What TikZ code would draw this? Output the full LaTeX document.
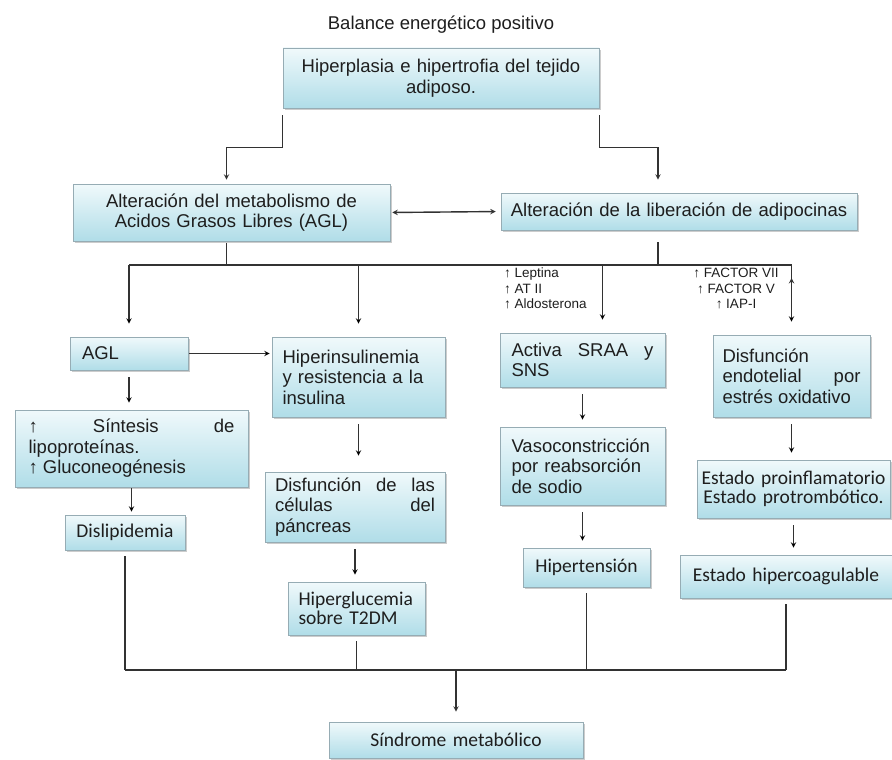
\documentclass[tikz,border=0pt]{standalone}
\usepackage{fontspec}
\setmainfont{Liberation Sans}
\newfontfamily\carlito{Carlito}
\usepackage{tikz}
\usetikzlibrary{arrows}
\usetikzlibrary{shadows}
\definecolor{cajaarriba}{RGB}{240,249,251}
\definecolor{cajaabajo}{RGB}{176,221,232}
\definecolor{borde}{RGB}{150,172,180}
\definecolor{trazo}{RGB}{50,50,50}
\definecolor{texto}{RGB}{30,30,30}
\hyphenpenalty=10000
\exhyphenpenalty=10000

\begin{document}
\begin{tikzpicture}[x=1pt,y=-1pt,
    caja/.style={draw=borde, line width=0.6pt, top color=cajaarriba, bottom color=cajaabajo,
      drop shadow={shadow xshift=1.5pt, shadow yshift=-2pt, opacity=0.4},
      text=texto, inner sep=0pt, font=\fontsize{18.5}{20.5}\selectfont},
    cajac/.style={caja, font=\carlito\fontsize{19.5}{18.5}\selectfont},
    nota/.style={text=texto, inner sep=0pt, font=\fontsize{13.5}{15.5}\selectfont},
    flecha/.style={-stealth, draw=trazo, line width=1.4pt, shorten <=7pt, shorten >=7pt},
    bajada/.style={-stealth, draw=trazo, line width=1.4pt, shorten >=13pt},
    linea/.style={draw=trazo, line width=1.4pt}]
  \useasboundingbox (0,0) rectangle (892,760);

  % cabecera
  \node[text=texto, font=\fontsize{18.5}{22}\selectfont] (balance) at (441,25) {Balance energético positivo};
  \node[caja, minimum width=316pt, minimum height=60pt, text width=304pt, align=center] (hiper) at (441,78)
    {Hiperplasia e hipertrofia del tejido\\ adiposo.};
  \node[caja, minimum width=317pt, minimum height=57pt, text width=304pt, align=center] (metab) at (231.5,212.5)
    {Alteración del metabolismo de\\ Acidos Grasos Libres (AGL)};
  \node[caja, minimum width=356pt, minimum height=37pt, text width=350pt, align=center] (adipo) at (679,211.5)
    {Alteración de la liberación de adipocinas};

  % columna AGL
  \node[caja, minimum width=118pt, minimum height=33pt, text width=94pt, align=left] (agl) at (129,353.5) {AGL};
  \node[caja, minimum width=233pt, minimum height=77pt, text width=206pt, align=justify] (sintesis) at (131.5,448.5)
    {↑ Síntesis de\linebreak lipoproteínas.\\ ↑ Gluconeogénesis};
  \node[cajac, minimum width=120pt, minimum height=35pt, text width=112pt, align=center] (dislip) at (125,532.5) {Dislipidemia};

  % columna insulina
  \node[caja, minimum width=173pt, minimum height=80pt, text width=152pt, align=left] (hiperins) at (358.5,377)
    {Hiperinsulinemia\\ y resistencia a la\\ insulina};
  \node[caja, minimum width=180pt, minimum height=70pt, text width=160pt, align=justify] (disfcel) at (355,507)
    {Disfunción de las\linebreak células del\linebreak páncreas};
  \node[cajac, minimum width=137pt, minimum height=53pt, text width=116pt, align=left] (hipergl) at (356.5,608.5)
    {Hiperglucemia\\ sobre T2DM};

  % columna SRAA
  \node[nota, anchor=north west, align=left] (hormonas) at (504,268) {↑ Leptina\\ ↑ AT II\\ ↑ Aldosterona};
  \node[caja, minimum width=165pt, minimum height=54pt, text width=142pt, align=justify] (activa) at (582.5,360)
    {Activa SRAA y\linebreak SNS};
  \node[caja, minimum width=165pt, minimum height=78pt, text width=142pt, align=left] (vaso) at (582.5,466)
    {Vasoconstricción\\ por reabsorción\\ de sodio};
  \node[cajac, minimum width=127pt, minimum height=39pt, text width=118pt, align=center] (hipert) at (586.5,567.5) {Hipertensión};

  % columna endotelio
  \node[nota, anchor=north, align=center] (factores) at (736,268) {↑ FACTOR VII\\ ↑ FACTOR V\\ ↑ IAP-I};
  \node[caja, minimum width=157pt, minimum height=82pt, text width=138pt, align=justify] (disfend) at (791.5,376)
    {Disfunción\\ endotelial por\linebreak estrés oxidativo};
  \node[cajac, minimum width=193pt, minimum height=58pt, text width=190pt, align=center] (estpro) at (793.5,489)
    {Estado proinflamatorio\\ Estado protrombótico.};
  \node[cajac, minimum width=212pt, minimum height=43pt, text width=208pt, align=center] (hipercoag) at (786,576.5)
    {Estado hipercoagulable};

  \node[cajac, minimum width=254pt, minimum height=36pt, text width=240pt, align=center] (sindrome) at (456,740)
    {Síndrome metabólico};

  % conectores
  \coordinate (bus) at (0,265);
  \coordinate (base) at (0,670);
  \coordinate (metabsal) at ([xshift=-5pt]metab.south);
  \coordinate (adipoent) at ([xshift=-21pt]adipo.north);
  \coordinate (adiposal) at ([xshift=-21pt]adipo.south);
  \coordinate (activaent) at ([xshift=20pt]activa.north);

  \draw[flecha, shorten >=4pt] (hiper.south west) -- ++(0,39) -| ([xshift=-5pt]metab.north);
  \draw[flecha, shorten >=13pt] (hiper.south east) -- ++(0,39) -| (adipoent);
  \draw[flecha, stealth-stealth, shorten <=2pt, shorten >=5pt] (metab.east) -- (adipo.west);

  \draw[linea, shorten <=2pt] (metabsal) -- (metabsal |- bus);
  \draw[linea, shorten <=12pt] (adiposal) -- (adiposal |- bus);
  \draw[linea] (agl.north |- bus) -- (disfend.north |- bus);
  \path[bajada]
    (agl.north |- bus) edge (agl)
    (hiperins.north |- bus) edge (hiperins)
    (activaent |- bus) edge (activaent)
    (disfend.north |- bus) edge (disfend);

  \path[flecha]
    (agl) edge [shorten <=1pt, shorten >=2pt] (agl -| hiperins.west)
    (agl) edge (agl |- sintesis.north)
    (sintesis) edge [shorten <=1pt, shorten >=3pt] (sintesis |- dislip.north)
    (hiperins) edge [shorten >=16pt] (hiperins |- disfcel.north)
    (disfcel) edge (disfcel |- hipergl.north)
    (activa) edge (activa |- vaso.north)
    (vaso) edge (vaso |- hipert.north)
    (disfend) edge (disfend |- estpro.north)
    (estpro) edge (estpro |- hipercoag.north);

  \draw[linea] (dislip.south |- base) -- (hipercoag.south |- base);
  \path[linea, shorten <=6pt]
    (dislip) edge (dislip.south |- base)
    (hipergl) edge (hipergl.south |- base)
    (hipert) edge (hipert.south |- base)
    (hipercoag) edge (hipercoag.south |- base);
  \draw[flecha, shorten <=0pt, shorten >=10pt] (sindrome.north |- base) -- (sindrome);
\end{tikzpicture}
\end{document}
